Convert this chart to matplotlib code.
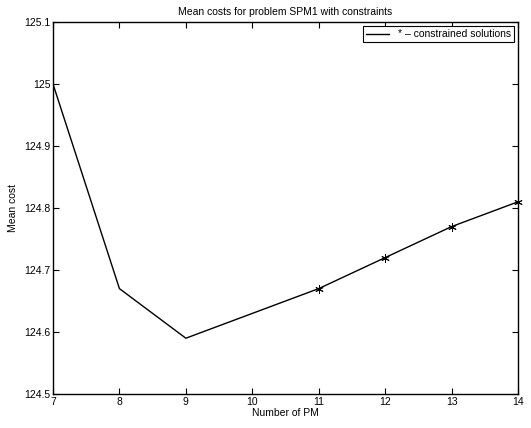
import matplotlib
matplotlib.use('Agg')
import matplotlib.pyplot as plt

# data
num_pm = [7, 8, 9, 10, 11, 12, 13, 14]
mean_cost = [125.0, 124.67, 124.59, 124.63, 124.67, 124.72, 124.77, 124.81]
constrained_pm = [11, 12, 13, 14]
constrained_cost = [124.67, 124.72, 124.77, 124.81]

plt.rcParams['font.family'] = ['Liberation Sans', 'DejaVu Sans']
plt.rcParams['font.size'] = 7.5

fig = plt.figure(figsize=(5.31, 4.28), dpi=100)
ax = fig.add_axes([0.0998, 0.0794, 0.8757, 0.8692])

ax.plot(num_pm, mean_cost, color='black', linewidth=1.0,
        label='* \u2013 constrained solutions')
# MATLAB-style asterisk markers for the constrained solutions
ax.plot(constrained_pm, constrained_cost, linestyle='none', marker=(6, 2, 0),
        color='black', markersize=6, markeredgewidth=0.7, clip_on=False)

ax.set_xlim(7, 14)
ax.set_ylim(124.5, 125.1)
ax.set_xticks(range(7, 15))
ax.set_yticks([124.5, 124.6, 124.7, 124.8, 124.9, 125.0, 125.1])
ax.set_yticklabels(['124.5', '124.6', '124.7', '124.8', '124.9', '125', '125.1'])
ax.tick_params(direction='in', top=True, right=True, length=4, width=0.8,
               labelsize=7.5, pad=2)
for s in ax.spines.values():
    s.set_linewidth(1.0)

ax.set_title('Mean costs for problem SPM1 with constraints', fontsize=7.5, pad=5)
ax.set_xlabel('Number of PM', fontsize=7.5, labelpad=1)
ax.set_ylabel('Mean cost', fontsize=7.5, labelpad=4)

leg = ax.legend(loc='upper right', fontsize=7.5, fancybox=False, framealpha=1,
                edgecolor='black', borderpad=0.3, handlelength=2.2,
                borderaxespad=0.4)
leg.get_frame().set_linewidth(0.8)

fig.savefig('out.png', dpi=100)
